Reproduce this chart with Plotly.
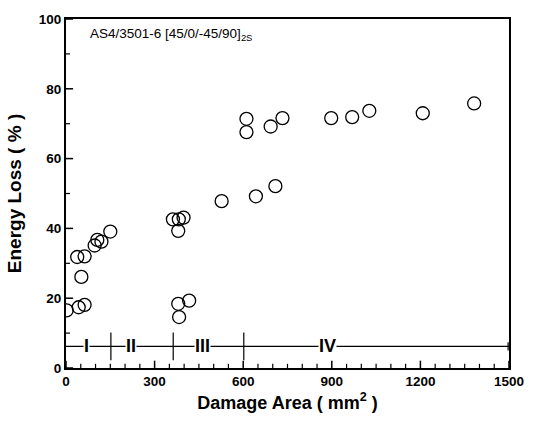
import plotly.graph_objects as go

# Data
damage_area = [2, 43, 63, 38, 63, 52, 97, 106, 120, 150,
               362, 382, 398, 380, 380, 383, 417,
               527, 611, 611, 643, 693, 709, 733,
               898, 969, 1027, 1208, 1382]
energy_loss = [16.5, 17.4, 18.1, 31.8, 32.0, 26.1, 35.1, 36.7, 36.2, 39.1,
               42.6, 42.6, 43.1, 39.3, 18.4, 14.6, 19.3,
               47.8, 71.4, 67.6, 49.2, 69.2, 52.1, 71.6,
               71.6, 71.9, 73.7, 73.0, 75.8]

region_bounds = [0, 152, 363, 602, 1500]
region_labels = ["I", "II", "III", "IV"]
region_label_x = [69, 219, 463, 886]
region_level = 6.2

x_range = [0, 1500]
y_range = [0, 100]
x_major_ticks = [0, 300, 600, 900, 1200, 1500]
x_minor_ticks = [50, 100, 150, 200, 250, 350, 400, 450, 500, 550,
                 650, 700, 750, 800, 850, 950, 1000, 1050, 1100, 1150,
                 1250, 1300, 1350, 1400, 1450]
y_major_ticks = [0, 20, 40, 60, 80, 100]
y_minor_ticks = [10, 30, 50, 70, 90]

title_text = "AS4/3501-6 [45/0/-45/90]<sub>2S</sub>"

FONT = "Liberation Sans, Arial, sans-serif"

fig = go.Figure()

# region line
fig.add_trace(go.Scatter(
    x=[region_bounds[0], region_bounds[-1]], y=[region_level, region_level],
    mode="lines", line=dict(color="black", width=1.3), hoverinfo="skip",
    showlegend=False))

# data points
fig.add_trace(go.Scatter(
    x=damage_area, y=energy_loss, mode="markers",
    marker=dict(symbol="circle-open", size=13, color="black",
                line=dict(color="black", width=1.3)),
    showlegend=False))

shapes = []
# inward tick marks (positions from the tick arrays, lengths in paper units)
for t in x_major_ticks:
    shapes.append(dict(type="line", xref="x", yref="paper", x0=t, x1=t,
                       y0=0, y1=0.021, line=dict(color="black", width=1.5)))
for t in x_minor_ticks:
    shapes.append(dict(type="line", xref="x", yref="paper", x0=t, x1=t,
                       y0=0, y1=0.012, line=dict(color="black", width=1.2)))
for t in y_major_ticks:
    shapes.append(dict(type="line", xref="paper", yref="y", x0=0, x1=0.016,
                       y0=t, y1=t, line=dict(color="black", width=1.5)))
for t in y_minor_ticks:
    shapes.append(dict(type="line", xref="paper", yref="y", x0=0, x1=0.009,
                       y0=t, y1=t, line=dict(color="black", width=1.2)))

# region dividers
for b in region_bounds[1:-1]:
    shapes.append(dict(type="line", xref="x", yref="y", x0=b, x1=b,
                       y0=region_level - 4, y1=region_level + 4,
                       line=dict(color="black", width=1.2)))
shapes.append(dict(type="line", xref="x", yref="y", x0=region_bounds[-1] - 3,
                   x1=region_bounds[-1] - 3, y0=region_level - 1.2,
                   y1=region_level + 1.2, line=dict(color="black", width=1.2)))

annotations = []
for lab, lx in zip(region_labels, region_label_x):
    annotations.append(dict(x=lx, y=region_level, xref="x", yref="y",
                            text="<b>" + lab + "</b>", showarrow=False,
                            font=dict(family=FONT, size=18, color="black"),
                            bgcolor="white", borderpad=0))
annotations.append(dict(x=0.05, y=0.955, xref="paper", yref="paper",
                        xanchor="left", yanchor="middle", text=title_text,
                        showarrow=False,
                        font=dict(family=FONT, size=13.5, color="black")))

fig.update_layout(
    width=536, height=422,
    margin=dict(l=66, r=19, t=17, b=52),
    paper_bgcolor="white", plot_bgcolor="white",
    font=dict(family=FONT, color="black"),
    shapes=shapes, annotations=annotations,
    xaxis=dict(
        range=x_range, tickmode="array", tickvals=x_major_ticks, ticks="",
        showline=True, linecolor="black", linewidth=2, mirror=True,
        showgrid=False, zeroline=False,
        tickfont=dict(family=FONT, size=13.5, color="black", weight="bold"),
        title=dict(text="<b>Damage Area ( mm<sup>2</sup> )</b>",
                   font=dict(family=FONT, size=18, color="black"), standoff=8)),
    yaxis=dict(
        range=y_range, tickmode="array", tickvals=y_major_ticks, ticks="",
        showline=True, linecolor="black", linewidth=2, mirror=True,
        showgrid=False, zeroline=False,
        tickfont=dict(family=FONT, size=13.5, color="black", weight="bold"),
        title=dict(text="<b>Energy Loss ( % )</b>",
                   font=dict(family=FONT, size=19, color="black"), standoff=12)),
)

fig.write_html("out.html")
